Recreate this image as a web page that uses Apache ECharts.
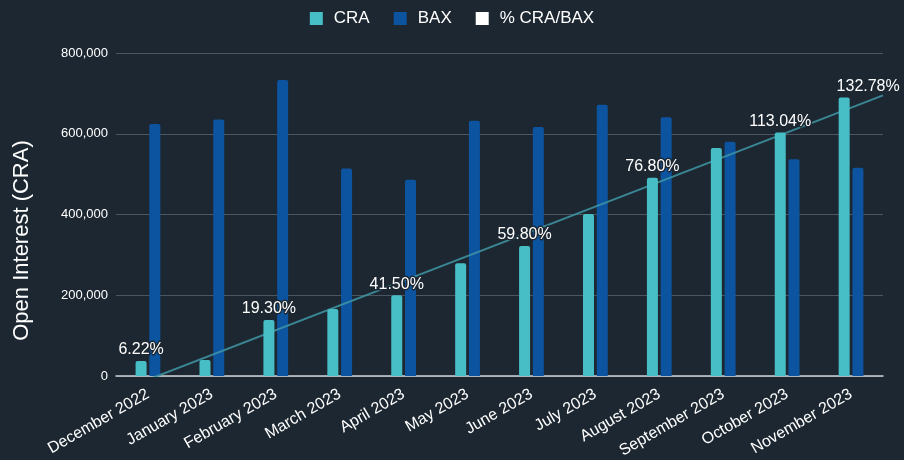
<!DOCTYPE html>
<html>
<head>
<meta charset="utf-8">
<style>
  html, body { margin: 0; padding: 0; background: #1d2731; }
  #chart { width: 904px; height: 460px; }
</style>
<script src="https://cdn.jsdelivr.net/npm/echarts@6/dist/echarts.min.js"></script>
</head>
<body>
<div id="chart"></div>
<script>
const months = [
  "December 2022", "January 2023", "February 2023", "March 2023",
  "April 2023", "May 2023", "June 2023", "July 2023",
  "August 2023", "September 2023", "October 2023", "November 2023"
];
const craValues = [37000, 39500, 139000, 166000, 200000, 279000, 322000, 401000, 491000, 565000, 603000, 690000];
const baxValues = [624000, 635000, 733000, 514000, 486000, 632000, 617000, 672000, 641000, 580000, 537000, 516000];
// % CRA/BAX labels that are visible in the picture (others hidden)
const pctLabels = ["6.22%", null, "19.30%", null, "41.50%", null, "59.80%", null, "76.80%", null, "113.04%", "132.78%"];
const yTicks = [0, 200000, 400000, 600000, 800000];

const bg = "#1d2731";
const craColor = "#47bec6";
const baxColor = "#0c54a0";

// linear trendline of CRA (least squares)
function trend(vals) {
  const n = vals.length;
  let sx = 0, sy = 0, sxy = 0, sxx = 0;
  vals.forEach((v, i) => { sx += i; sy += v; sxy += i * v; sxx += i * i; });
  const slope = (n * sxy - sx * sy) / (n * sxx - sx * sx);
  const icpt = (sy - slope * sx) / n;
  return [[-0.5, icpt - 0.5 * slope], [n - 0.5, icpt + (n - 0.5) * slope]];
}

const chart = echarts.init(document.getElementById("chart"));

// last label sits a bit to the right in the original
const craData = craValues.map((v, i) =>
  i === craValues.length - 1 ? { value: v, label: { offset: [24, 0] } } : v
);

const option = {
  backgroundColor: bg,
  animation: false,
  textStyle: { fontFamily: "Liberation Sans, Arial, sans-serif" },
  legend: {
    top: 5,
    left: "center",
    icon: "rect",
    itemWidth: 13,
    itemHeight: 13,
    itemGap: 24,
    textStyle: { color: "#ffffff", fontSize: 17, padding: [0, 0, 0, 6] },
    data: ["CRA", "BAX", "% CRA/BAX"]
  },
  grid: { left: 116, right: 21, top: 53, bottom: 84, containLabel: false, outerBoundsMode: "none" },
  xAxis: [
    {
      type: "category",
      data: months,
      axisLine: { lineStyle: { color: "#d0d4d8", width: 1.5 } },
      axisTick: { show: false },
      axisLabel: { color: "#ffffff", fontSize: 16, rotate: 30, interval: 0, margin: 17 }
    },
    { type: "value", min: -0.5, max: months.length - 0.5, show: false }
  ],
  yAxis: {
    type: "value",
    min: yTicks[0],
    max: yTicks[yTicks.length - 1],
    interval: yTicks[1] - yTicks[0],
    name: "Open Interest (CRA)",
    nameLocation: "middle",
    nameGap: 83,
    nameTextStyle: { color: "#ffffff", fontSize: 22, padding: [0, 52, 0, 0] },
    axisLine: { show: false },
    axisTick: { show: false },
    axisLabel: { color: "#ffffff", fontSize: 13, margin: 8 },
    splitLine: { lineStyle: { color: "#4b5661", width: 1 } }
  },
  series: [
    {
      name: "CRA",
      type: "bar",
      data: craData,
      barWidth: 11,
      barGap: "25%",
      itemStyle: { color: craColor, borderRadius: [2, 2, 0, 0] },
      label: {
        show: true,
        position: "top",
        distance: 3,
        color: "#ffffff",
        fontSize: 16,
        textBorderColor: bg,
        textBorderWidth: 3,
        formatter: (p) => pctLabels[p.dataIndex] || ""
      },
      z: 3
    },
    {
      name: "BAX",
      type: "bar",
      data: baxValues,
      barWidth: 11,
      itemStyle: { color: baxColor, borderRadius: [2, 2, 0, 0] },
      z: 2
    },
    {
      name: "% CRA/BAX",
      type: "line",
      data: [],
      itemStyle: { color: "#ffffff" }
    },
    {
      name: "trend",
      type: "line",
      xAxisIndex: 1,
      data: trend(craValues),
      showSymbol: false,
      lineStyle: { color: "#3f97a6", width: 2, opacity: 0.85 },
      silent: true,
      z: 2
    }
  ]
};

chart.setOption(option);
</script>
</body>
</html>
